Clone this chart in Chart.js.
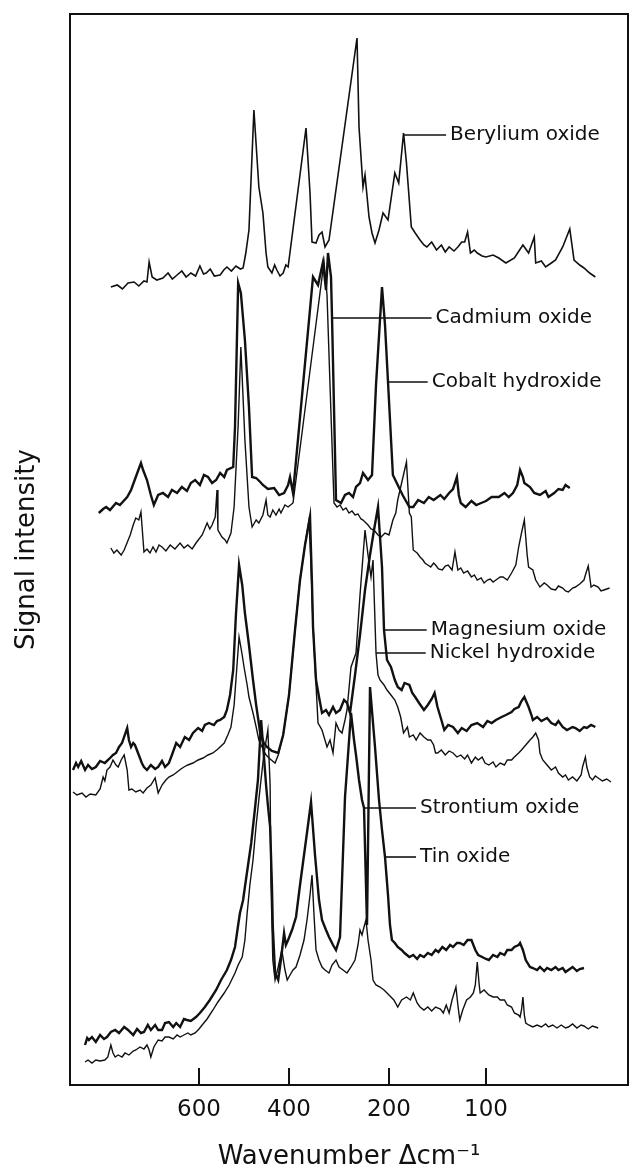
<!DOCTYPE html>
<html>
<head>
<meta charset="utf-8">
<script src="https://cdn.jsdelivr.net/npm/chart.js@4/dist/chart.umd.min.js"></script>
<style>
  html, body { margin: 0; padding: 0; background: #fff; }
  canvas { display: block; }
</style>
</head>
<body>
<canvas id="spectra" width="634" height="1170"></canvas>
<script>
// Raman spectra of metal oxides / hydroxides, stacked with offsets.
// Each series: [wavenumber (cm-1), signal intensity (arbitrary, offset)]
const waveTicks = [600, 400, 200, 100];

const beryllium = [[805,798],[790,800],[778,796],[765,802],[751,803],[740,799],[728,804],[721,803],[716,823],[709,808],[698,805],[684,807],[672,812],[662,806],[651,810],[640,814],[630,808],[619,812],[608,809],[598,819],[590,811],[584,812],[575,816],[566,809],[553,810],[545,815],[538,818],[528,814],[518,819],[508,816],[502,817],[496,832],[489,855],[478,975],[467,898],[458,872],[451,832],[447,818],[438,812],[432,820],[427,815],[420,809],[413,812],[407,820],[402,818],[366,957],[358,892],[354,843],[346,842],[340,850],[334,853],[328,838],[320,845],[264,1047],[260,958],[252,898],[248,910],[240,868],[234,852],[228,842],[220,855],[212,872],[202,865],[194,912],[190,902],[185,952],[182,922],[177,858],[173,852],[168,845],[164,840],[161,838],[156,843],[151,835],[146,840],[142,833],[138,838],[133,834],[129,838],[125,843],[122,843],[119,853],[116,832],[112,835],[109,832],[104,829],[100,828],[95,830],[91,827],[86,822],[80,827],[74,840],[70,832],[66,848],[65,822],[61,824],[58,818],[54,822],[51,825],[46,838],[41,856],[38,825],[34,820],[31,817],[27,812],[23,808]];

const cadmium = [[805,537],[798,532],[791,535],[781,530],[774,535],[760,550],[753,560],[747,567],[740,565],[735,573],[728,533],[721,536],[714,532],[707,538],[700,533],[693,540],[686,538],[677,534],[667,540],[656,536],[644,542],[635,537],[626,540],[616,536],[607,542],[593,550],[582,562],[576,556],[571,560],[564,568],[560,595],[558,555],[549,548],[542,545],[538,542],[529,552],[522,578],[513,660],[507,738],[498,645],[489,578],[482,558],[473,565],[467,562],[458,570],[451,585],[447,570],[442,568],[436,575],[429,570],[422,576],[418,572],[409,580],[402,578],[392,582],[336,800],[330,823],[324,790],[318,700],[310,582],[304,578],[298,580],[292,575],[286,577],[280,572],[274,574],[268,570],[262,571],[256,566],[252,565],[246,562],[242,560],[236,556],[230,555],[222,550],[216,548],[208,552],[200,550],[196,565],[193,572],[191,585],[187,602],[182,623],[179,572],[177,568],[175,535],[171,532],[168,528],[165,525],[163,522],[160,520],[157,518],[154,522],[152,520],[149,516],[145,515],[142,519],[139,520],[135,515],[132,533],[129,515],[126,517],[123,512],[119,514],[115,508],[112,510],[109,505],[105,507],[102,502],[99,505],[97,506],[95,503],[93,505],[90,508],[88,508],[85,505],[82,512],[79,520],[77,538],[75,552],[73,565],[71,530],[70,518],[67,515],[65,505],[62,498],[59,502],[57,500],[54,496],[51,495],[49,499],[46,497],[44,494],[42,493],[39,497],[37,498],[34,501],[31,505],[30,510],[28,519],[26,498],[24,500],[21,498],[19,494],[17,495],[13,497]];

const cobalt = [[833,572],[823,576],[816,578],[807,575],[793,582],[784,580],[767,588],[758,595],[747,608],[735,622],[730,615],[721,605],[712,590],[705,580],[695,590],[684,592],[672,588],[663,595],[651,592],[640,598],[628,594],[619,602],[609,605],[598,600],[589,610],[580,608],[571,602],[562,605],[553,612],[544,608],[538,615],[524,618],[520,658],[513,802],[507,792],[498,745],[489,678],[482,608],[473,607],[464,603],[458,600],[447,596],[433,597],[422,590],[411,592],[402,600],[398,608],[392,592],[352,808],[342,800],[332,823],[326,795],[322,832],[316,808],[314,768],[306,585],[296,582],[288,590],[280,592],[272,588],[266,598],[258,602],[252,612],[242,605],[234,610],[226,700],[214,798],[208,760],[202,703],[196,610],[191,600],[186,590],[179,578],[175,578],[170,585],[164,582],[159,588],[154,585],[147,590],[143,586],[138,592],[134,596],[130,608],[128,590],[126,582],[121,578],[115,584],[110,580],[105,582],[100,584],[96,588],[91,588],[87,592],[84,588],[81,592],[78,600],[76,615],[74,608],[73,602],[69,598],[66,592],[62,590],[58,594],[56,588],[52,592],[49,596],[46,595],[44,600],[41,597]];

const magnesium = [[893,315],[886,322],[881,318],[874,324],[865,315],[858,320],[849,316],[840,318],[830,324],[819,322],[809,326],[800,330],[793,332],[786,338],[779,342],[767,357],[763,345],[758,338],[753,342],[749,340],[740,330],[733,322],[728,318],[721,315],[712,320],[702,316],[695,318],[686,324],[679,318],[670,322],[663,330],[653,342],[644,338],[633,348],[623,345],[614,352],[602,357],[593,354],[587,360],[578,362],[567,360],[560,364],[553,365],[544,368],[538,375],[531,390],[524,415],[518,470],[511,520],[504,500],[498,472],[489,440],[480,405],[473,380],[464,352],[456,342],[449,338],[438,334],[424,332],[413,350],[400,390],[388,455],[378,505],[368,540],[358,568],[354,500],[352,458],[346,405],[340,388],[334,372],[326,375],[320,370],[312,378],[306,372],[298,375],[290,385],[284,382],[278,372],[268,410],[258,450],[248,495],[238,530],[230,555],[222,578],[214,518],[210,455],[204,425],[198,418],[194,405],[191,398],[187,395],[184,402],[179,400],[176,392],[173,388],[169,382],[164,375],[160,380],[156,386],[153,392],[150,378],[146,365],[143,355],[139,360],[134,358],[129,352],[125,357],[120,354],[115,360],[109,362],[103,358],[99,364],[96,362],[93,365],[89,368],[86,370],[82,373],[80,376],[77,378],[75,384],[73,388],[70,378],[68,370],[67,365],[64,368],[61,364],[57,367],[54,362],[51,360],[49,364],[46,358],[43,355],[39,358],[37,357],[34,354],[31,358],[29,357],[26,360],[23,358]];

const nickel = [[893,293],[884,290],[872,292],[863,288],[853,291],[840,290],[830,296],[823,308],[819,304],[814,315],[807,318],[800,325],[793,320],[788,318],[781,325],[774,330],[767,315],[763,295],[756,296],[747,293],[737,295],[730,292],[721,297],[712,300],[702,307],[695,292],[686,300],[677,305],[670,308],[660,310],[651,313],[642,316],[635,318],[626,320],[614,322],[602,325],[591,327],[580,330],[569,332],[558,336],[544,342],[536,350],[529,358],[522,380],[518,405],[511,448],[504,430],[500,418],[493,400],[489,388],[480,372],[473,358],[467,345],[460,338],[451,330],[442,326],[431,322],[424,330],[413,350],[400,390],[388,455],[378,505],[368,540],[360,565],[356,520],[352,460],[348,420],[342,362],[334,355],[324,338],[318,345],[312,332],[306,362],[300,355],[294,352],[288,365],[284,375],[276,418],[266,432],[258,490],[248,555],[242,530],[236,508],[232,525],[226,432],[222,410],[218,405],[210,400],[204,395],[198,390],[194,385],[191,378],[188,368],[185,352],[181,358],[179,348],[175,350],[172,345],[168,352],[164,348],[160,345],[157,345],[154,340],[152,332],[150,332],[146,335],[142,330],[138,334],[134,332],[130,328],[126,330],[122,326],[119,330],[115,322],[111,328],[108,325],[104,328],[101,322],[98,320],[95,323],[93,318],[90,322],[87,320],[85,325],[82,325],[80,328],[77,332],[75,335],[72,340],[69,345],[67,348],[65,352],[63,345],[62,332],[60,325],[57,320],[54,315],[51,318],[49,312],[46,308],[44,310],[42,305],[39,308],[36,304],[33,310],[32,318],[30,328],[29,318],[27,308],[25,305],[23,309],[21,307],[18,304],[15,306],[12,303]];

const strontium = [[865,40],[860,47],[856,45],[849,48],[840,43],[830,50],[821,46],[814,48],[805,53],[795,55],[786,52],[774,58],[765,55],[753,50],[744,56],[735,52],[728,53],[719,60],[712,55],[702,60],[695,55],[686,55],[679,62],[670,63],[660,58],[653,62],[644,58],[635,66],[628,65],[619,64],[607,68],[598,72],[587,78],[576,85],[562,95],[551,105],[538,115],[529,125],[520,138],[513,160],[509,172],[502,185],[498,198],[491,220],[484,242],[476,275],[469,305],[462,365],[456,330],[451,300],[447,280],[442,258],[438,200],[436,158],[431,112],[424,105],[418,125],[411,152],[407,140],[402,145],[394,155],[386,168],[378,200],[370,230],[362,260],[356,283],[348,230],[340,185],[334,165],[326,155],[320,148],[312,140],[306,135],[298,148],[288,288],[282,330],[276,372],[270,345],[266,330],[260,305],[254,285],[250,277],[244,160],[238,398],[228,338],[220,285],[214,255],[208,228],[202,190],[199,160],[197,145],[194,142],[191,138],[187,135],[184,132],[179,128],[175,130],[171,126],[168,130],[164,128],[160,132],[156,130],[152,135],[149,133],[145,138],[141,135],[137,140],[134,138],[130,142],[127,142],[123,140],[119,145],[115,145],[113,140],[111,135],[108,130],[104,128],[100,126],[98,125],[95,130],[92,128],[90,132],[87,130],[85,135],[82,135],[80,138],[77,140],[76,142],[74,135],[72,125],[69,118],[67,117],[64,115],[62,118],[59,114],[57,117],[54,115],[51,118],[49,115],[46,117],[44,113],[42,115],[39,118],[36,114],[34,116],[31,117]];

const tin = [[865,23],[858,25],[849,22],[840,25],[830,24],[819,25],[812,28],[805,40],[800,32],[795,28],[788,30],[779,28],[772,32],[763,30],[753,34],[747,35],[737,38],[728,36],[721,40],[716,35],[712,28],[705,38],[695,45],[686,44],[679,48],[670,48],[660,46],[651,50],[644,48],[635,50],[626,52],[619,50],[609,52],[600,56],[593,60],[582,66],[569,75],[558,83],[544,92],[533,100],[520,112],[513,120],[504,128],[498,145],[493,172],[487,200],[480,225],[473,260],[464,298],[456,330],[447,355],[442,300],[440,200],[436,125],[431,105],[424,118],[416,135],[409,115],[404,105],[398,110],[392,115],[386,118],[378,130],[370,145],[364,165],[358,190],[354,210],[350,170],[346,135],[340,125],[334,118],[328,115],[320,112],[314,120],[306,125],[300,118],[292,115],[284,112],[276,118],[268,125],[262,140],[258,155],[254,150],[250,158],[246,165],[242,145],[236,125],[232,105],[226,100],[218,98],[210,95],[204,92],[198,88],[195,85],[191,78],[187,85],[182,88],[178,85],[175,92],[171,82],[168,78],[164,75],[160,78],[156,74],[152,78],[147,76],[144,72],[141,80],[138,72],[135,85],[131,98],[129,80],[127,65],[124,75],[120,85],[116,88],[113,92],[111,100],[109,123],[107,100],[106,92],[102,95],[98,90],[95,88],[92,88],[90,85],[87,85],[85,80],[82,78],[80,72],[77,70],[76,68],[75,75],[74,88],[73,70],[72,62],[70,60],[67,58],[64,60],[61,58],[58,61],[56,58],[53,60],[50,57],[47,60],[44,57],[42,58],[39,61],[36,57],[33,60],[31,59],[28,56],[25,59],[23,58],[21,57]];

// Curve labels: name, point on the curve the leader starts from, wavenumber where the text begins
const labelNames = ['Berylium oxide', 'Cadmium oxide', 'Cobalt hydroxide', 'Magnesium oxide', 'Nickel hydroxide', 'Strontium oxide', 'Tin oxide'];
const labelAnchors = [[185, 950], [314, 767], [202, 703], [208, 455], [226, 432], [250, 277], [208, 228]];
const labelTextAt = [137, 152, 156, 157, 158, 168, 168];

const INK = '#111';
const FONT = 'DejaVu Sans';

// The spectrometer's wavenumber axis is not linear: a piecewise calibration
// maps wavenumber to a fraction of the axis length.
class CalibratedScale extends Chart.LinearScale {
  static id = 'calibrated';
  static defaults = {};
  _toDecimal(v) {
    const { values, decimals } = this.options.calibration;
    let i = 0;
    while (i < values.length - 2 && v < values[i + 1]) i++;
    const t = (values[i] - v) / (values[i] - values[i + 1]);
    return decimals[i] + t * (decimals[i + 1] - decimals[i]);
  }
  getPixelForValue(value) {
    if (value === null || value === undefined || isNaN(value)) return NaN;
    return this.getPixelForDecimal(this._toDecimal(value));
  }
  getValueForPixel(pixel) {
    const d = this.getDecimalForPixel(pixel);
    const { values, decimals } = this.options.calibration;
    let i = 0;
    while (i < decimals.length - 2 && d > decimals[i + 1]) i++;
    const t = (d - decimals[i]) / (decimals[i + 1] - decimals[i]);
    return values[i] + t * (values[i + 1] - values[i]);
  }
}
Chart.register(CalibratedScale);

// Box frame (top and right edges) and inward tick marks on the wavenumber axis
const framePlugin = {
  id: 'frame',
  afterDraw(chart) {
    const { ctx, chartArea: a, scales: { x } } = chart;
    ctx.save();
    ctx.strokeStyle = INK;
    ctx.lineWidth = 2;
    ctx.beginPath();
    ctx.moveTo(a.left - 1, a.top);
    ctx.lineTo(a.right, a.top);
    ctx.lineTo(a.right, a.bottom + 1);
    for (const t of x.ticks) {
      const px = x.getPixelForValue(t.value);
      ctx.moveTo(px, a.bottom);
      ctx.lineTo(px, a.bottom - 17);
    }
    ctx.stroke();
    ctx.restore();
  }
};

// Curve names with leader lines
const curveLabels = {
  id: 'curveLabels',
  afterDatasetsDraw(chart) {
    const { ctx, scales: { x, y } } = chart;
    ctx.save();
    ctx.strokeStyle = INK;
    ctx.fillStyle = INK;
    ctx.lineWidth = 1.6;
    ctx.font = `20px "${FONT}"`;
    ctx.textBaseline = 'middle';
    labelNames.forEach((name, i) => {
      const ax = x.getPixelForValue(labelAnchors[i][0]);
      const ay = y.getPixelForValue(labelAnchors[i][1]);
      const tx = x.getPixelForValue(labelTextAt[i]);
      ctx.beginPath();
      ctx.moveTo(ax, ay);
      ctx.lineTo(tx - 4, ay);
      ctx.stroke();
      ctx.fillText(name, tx, ay);
    });
    ctx.restore();
  }
};

const series = [
  { label: 'Berylium oxide', data: beryllium, width: 1.6 },
  { label: 'Cobalt hydroxide', data: cobalt, width: 2.4 },
  { label: 'Cadmium oxide', data: cadmium, width: 1.4 },
  { label: 'Magnesium oxide', data: magnesium, width: 2.4 },
  { label: 'Nickel hydroxide', data: nickel, width: 1.4 },
  { label: 'Strontium oxide', data: strontium, width: 2.4 },
  { label: 'Tin oxide', data: tin, width: 1.4 }
];

new Chart(document.getElementById('spectra'), {
  type: 'line',
  data: {
    datasets: series.map(s => ({
      label: s.label,
      data: s.data.map(([x, y]) => ({ x, y })),
      borderColor: INK,
      borderWidth: s.width,
      pointRadius: 0,
      tension: 0,
      fill: false
    }))
  },
  options: {
    responsive: false,
    maintainAspectRatio: false,
    animation: false,
    devicePixelRatio: 1,
    layout: { padding: { top: 14, right: 6, left: 0, bottom: 0 } },
    plugins: { legend: { display: false }, tooltip: { enabled: false } },
    scales: {
      x: {
        type: 'calibrated',
        min: 0,
        max: 900,
        calibration: {
          values: [900, 600, 400, 200, 100, 0],
          decimals: [0, 0.2312, 0.3925, 0.5717, 0.7455, 1]
        },
        afterBuildTicks: s => { s.ticks = waveTicks.map(v => ({ value: v })); },
        afterFit: s => { s.height = 85; },
        grid: { display: false, drawTicks: false },
        border: { display: true, color: INK, width: 2 },
        ticks: {
          color: INK,
          padding: 11,
          maxRotation: 0,
          autoSkip: false,
          font: { family: FONT, size: 23 },
          callback: v => String(v)
        },
        title: {
          display: true,
          text: 'Wavenumber \u0394cm\u207B\u00B9',
          color: INK,
          font: { family: FONT, size: 26 },
          padding: { top: 0, bottom: -3 }
        }
      },
      y: {
        type: 'linear',
        min: 0,
        max: 1071,
        afterFit: s => { s.width = 70; },
        grid: { display: false, drawTicks: false },
        border: { display: true, color: INK, width: 2 },
        ticks: { display: false },
        title: {
          display: true,
          text: 'Signal intensity',
          color: INK,
          font: { family: FONT, size: 26 },
          padding: { top: 12, bottom: 0 }
        }
      }
    }
  },
  plugins: [framePlugin, curveLabels]
});
</script>
</body>
</html>
